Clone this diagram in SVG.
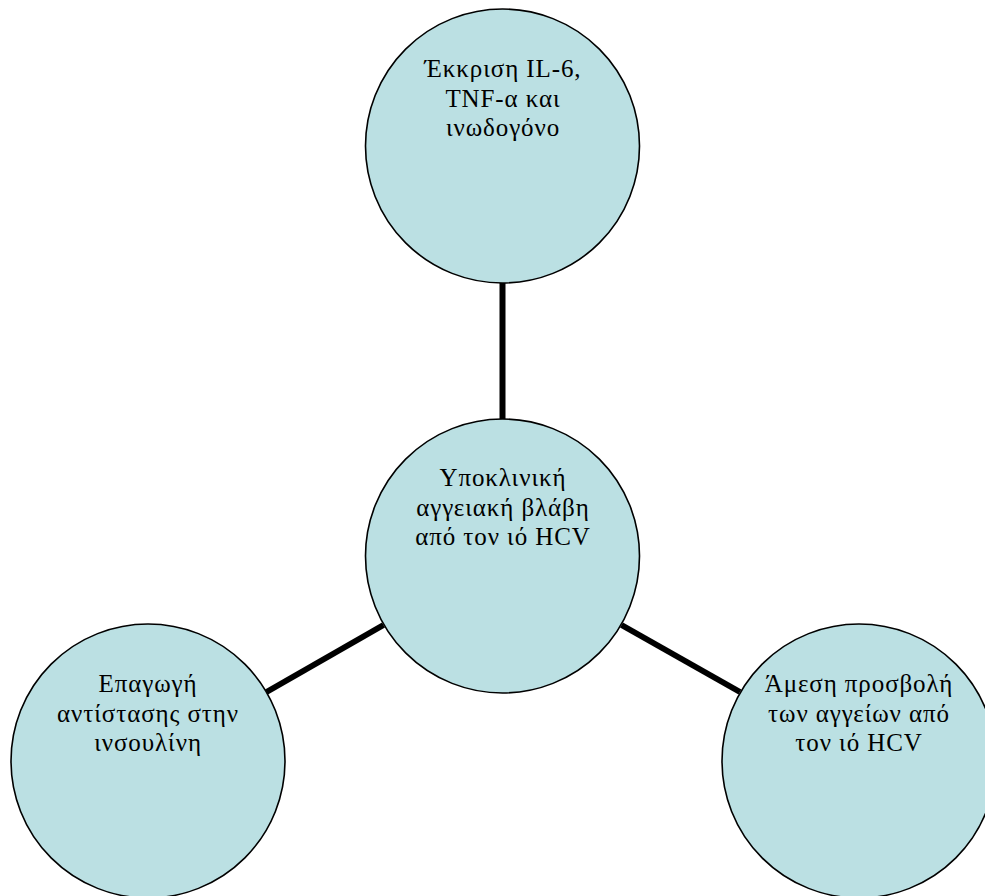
<svg xmlns="http://www.w3.org/2000/svg" width="985" height="896" viewBox="0 0 985 896">
<style>
.node{fill:#bbe0e3;stroke:#000;stroke-width:1.6}
.conn{stroke:#000;stroke-width:6;fill:none}
</style>
<rect width="985" height="896" fill="#fff"/>
<g id="connectors">
<line class="conn" x1="502.5" y1="283" x2="502.5" y2="419"/>
<line class="conn" x1="383.5" y1="625" x2="266.5" y2="692"/>
<line class="conn" x1="621.5" y1="625" x2="740" y2="692"/>
</g>
<g font-family="Liberation Serif, Times New Roman, serif" font-size="25" letter-spacing="0.9" fill="#000" text-anchor="middle">
<g id="top">
<circle class="node" cx="502.5" cy="146" r="137"/>
<text><tspan x="503" y="77">Έκκριση IL-6,</tspan><tspan x="503" y="106.5">TNF-α και</tspan><tspan x="503" y="136">ινωδογόνο</tspan></text>
</g>
<g id="center">
<circle class="node" cx="502.5" cy="556" r="137"/>
<text><tspan x="503" y="486">Υποκλινική</tspan><tspan x="503" y="515.5">αγγειακή βλάβη</tspan><tspan x="503" y="545">από τον ιό HCV</tspan></text>
</g>
<g id="left">
<circle class="node" cx="148" cy="761" r="137"/>
<text><tspan x="148" y="692">Επαγωγή</tspan><tspan x="148" y="721.5">αντίστασης στην</tspan><tspan x="148" y="751">ινσουλίνη</tspan></text>
</g>
<g id="right">
<circle class="node" cx="859" cy="761" r="137"/>
<text><tspan x="859" y="692">Άμεση προσβολή</tspan><tspan x="859" y="721.5">των αγγείων από</tspan><tspan x="859" y="751">τον ιό HCV</tspan></text>
</g>
</g>
</svg>
